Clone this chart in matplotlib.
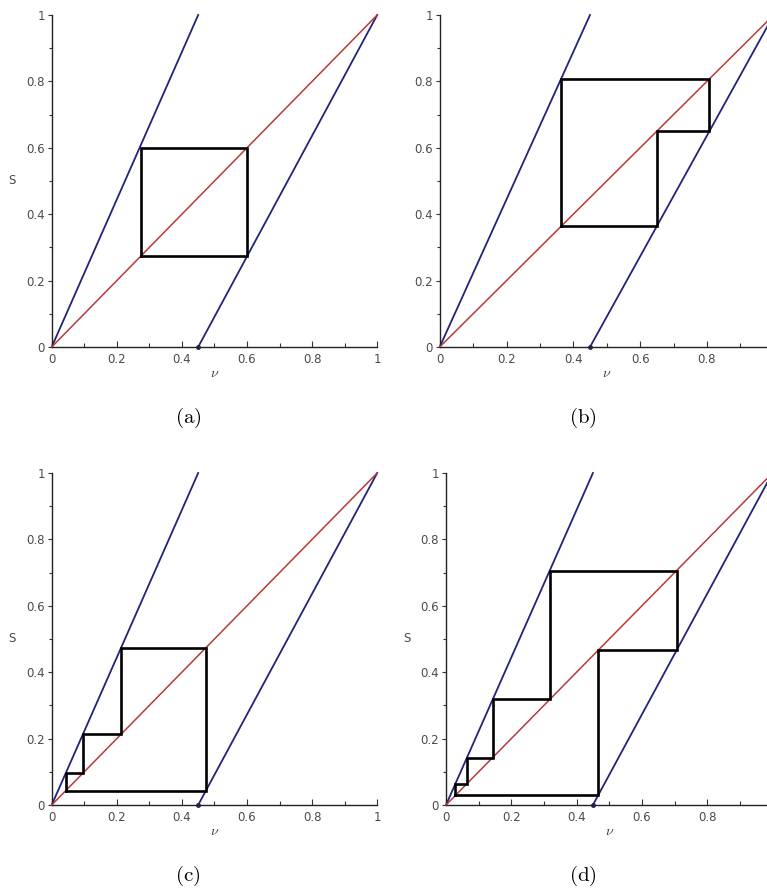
import matplotlib
matplotlib.use("Agg")
import matplotlib.pyplot as plt
from matplotlib.ticker import FixedLocator, FixedFormatter, MultipleLocator

plt.rcParams["mathtext.fontset"] = "cm"

# Piecewise-linear map s = f(v) and the diagonal s = v
left_v = [0.0, 0.45]
left_s = [0.0, 1.0]
right_v = [0.45, 1.0]
right_s = [0.0, 1.0]
diag_v = [0.0, 1.0]
diag_s = [0.0, 1.0]

# Periodic orbits traced as cobwebs
orbit_a = [0.273, 0.600]
orbit_b = [0.363, 0.807, 0.650]
orbit_c = [0.043, 0.096, 0.213, 0.474]
orbit_d = [0.029, 0.064, 0.143, 0.318, 0.706, 0.466]

tick_vals = [0, 0.2, 0.4, 0.6, 0.8, 1]
tick_labels = ["0", "0.2", "0.4", "0.6", "0.8", "1"]
captions = ["(a)", "(b)", "(c)", "(d)"]

W, H = 767, 890
fig = plt.figure(figsize=(W / 100, H / 100), dpi=100)


def cobweb(orbit):
    xs, ys = [orbit[0]], [orbit[0]]
    n = len(orbit)
    for i in range(n):
        cur, nxt = orbit[i], orbit[(i + 1) % n]
        xs += [cur, nxt]
        ys += [nxt, nxt]
    return xs, ys


# panel geometry in pixels: (x of origin, px per unit, y of origin)
panels = [
    (51.7, 325.5, 347.0, orbit_a, 188, 418, True),
    (439.7, 334.0, 347.0, orbit_b, 583, 418, False),
    (51.7, 325.5, 805.0, orbit_c, 188, 876, True),
    (446.0, 326.5, 805.0, orbit_d, 583, 876, True),
]
yscale = 332.0
grey = "#4a4a4a"

for (x0, xs_px, y0, orbit, cx, cy, show_s), cap in zip(panels, captions):
    ax = fig.add_axes([x0 / W, (H - y0) / H, xs_px / W, yscale / H])
    ax.set_xlim(0, 1)
    ax.set_ylim(0, 1)
    ax.patch.set_alpha(0)
    for side in ("top", "right"):
        ax.spines[side].set_visible(False)
    for side in ("left", "bottom"):
        ax.spines[side].set_color("#222222")
        ax.spines[side].set_linewidth(1.0)

    ax.plot(left_v, left_s, color="#23237a", lw=1.3, clip_on=False, zorder=2)
    ax.plot(right_v, right_s, color="#23237a", lw=1.3, clip_on=False, zorder=2)
    ax.plot([right_v[0]], [right_s[0]], "o", color="#222244", ms=2.5,
            clip_on=False, zorder=3)
    ax.plot(diag_v, diag_s, color="#b83a3a", lw=1.1, clip_on=False, zorder=3)

    cx_pts, cy_pts = cobweb(orbit)
    ax.plot(cx_pts, cy_pts, color="black", lw=1.9, solid_joinstyle="miter",
            zorder=4)

    # x tick labels that would fall past the figure's right edge are left out
    x_right_px = x0 + xs_px
    xt = [(v, l) for v, l in zip(tick_vals, tick_labels)
          if x0 + v * xs_px + 8 < W or x_right_px < W]
    ax.xaxis.set_major_locator(FixedLocator([v for v, _ in xt]))
    ax.xaxis.set_major_formatter(FixedFormatter([l for _, l in xt]))
    ax.yaxis.set_major_locator(FixedLocator(tick_vals))
    ax.yaxis.set_major_formatter(FixedFormatter(tick_labels))
    ax.xaxis.set_minor_locator(MultipleLocator(0.1))
    ax.yaxis.set_minor_locator(MultipleLocator(0.1))
    ax.tick_params(axis="x", which="major", direction="in", length=4,
                   width=0.8, color="#333333", labelsize=8.5,
                   labelcolor=grey, pad=4)
    ax.tick_params(axis="x", which="minor", direction="in", length=3,
                   width=0.8, color="#333333")
    ax.tick_params(axis="y", which="major", direction="out", length=3,
                   width=0.8, color="#333333", labelsize=8.5,
                   labelcolor=grey, pad=2)
    ax.tick_params(axis="y", which="minor", direction="out", length=2,
                   width=0.8, color="#333333")

    ax.set_xlabel(r"$\nu$", fontsize=10, color="#333333", labelpad=0)
    if show_s:
        ax.set_ylabel("S", fontsize=8.5, color=grey, rotation=0,
                      labelpad=10, va="center")

    fig.text(cx / W, 1 - cy / H, r"$\mathrm{" + cap + "}$", fontsize=15,
             ha="center", va="center")

fig.savefig("out.png", dpi=100)
